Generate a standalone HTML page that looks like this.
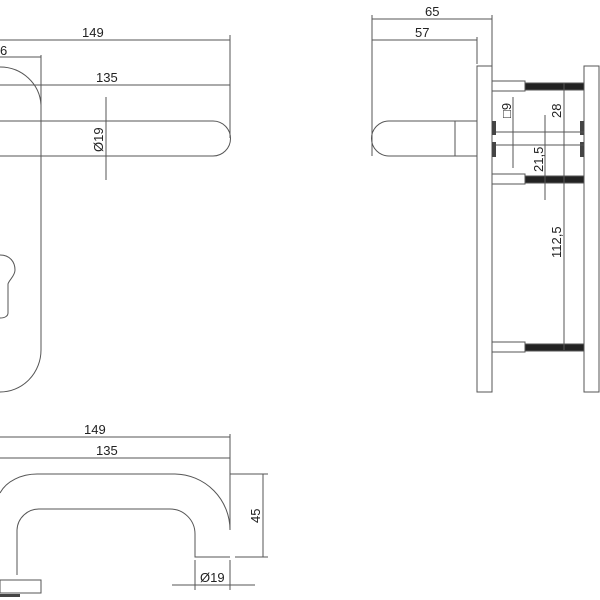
<!DOCTYPE html>
<html><head><meta charset="utf-8"><style>body{margin:0;background:#fff}svg{display:block}text{font-family:"Liberation Sans",sans-serif;font-size:13px;fill:#222}</style></head>
<body>
<svg width="600" height="600" viewBox="0 0 600 600" fill="none" stroke="#555" stroke-width="1">
<line x1="0" y1="40" x2="230" y2="40"/><line x1="230" y1="35" x2="230" y2="138"/>
<text x="82" y="37" stroke="none">149</text>
<line x1="0" y1="57" x2="41" y2="57"/><line x1="41" y1="55" x2="41" y2="350"/>
<text x="0" y="55" stroke="none">6</text>
<line x1="0" y1="85" x2="230" y2="85"/><text x="96" y="82" stroke="none">135</text>
<path d="M0,67 A41,40 0 0 1 41,105"/>
<path d="M41,350 A41,42 0 0 1 0,392"/>
<path d="M0,121 H213 A17.5,17.5 0 0 1 213,156 H0"/>
<line x1="106" y1="97" x2="106" y2="180"/>
<text x="0" y="0" stroke="none" transform="translate(103,152) rotate(-90)">Ø19</text>
<path d="M0,255 C10,255 15,262 15,270 C15,276 9,280 8,284 V313 C8,316 5,318 0,318"/>
<line x1="372" y1="19" x2="492" y2="19"/><line x1="372" y1="15" x2="372" y2="156"/><line x1="492" y1="15" x2="492" y2="66"/>
<text x="425" y="16" stroke="none">65</text>
<line x1="372" y1="40" x2="477" y2="40"/><line x1="477" y1="37" x2="477" y2="64"/>
<text x="415" y="37" stroke="none">57</text>
<rect x="477" y="66" width="15" height="326"/>
<rect x="584" y="66" width="15" height="326"/>
<path d="M477,121 H389 A17.5,17.5 0 0 0 389,156 H477"/>
<line x1="455" y1="121" x2="455" y2="156"/>
<g>
<rect x="492" y="81" width="33" height="10"/><rect x="525" y="83" width="59" height="7" fill="#222"/>
<rect x="492" y="174" width="33" height="10"/><rect x="525" y="176" width="59" height="7" fill="#222"/>
<rect x="492" y="342" width="33" height="10"/><rect x="525" y="344" width="59" height="7" fill="#222"/>
</g>
<rect x="492" y="121" width="4" height="14" fill="#444" stroke="none"/><rect x="492" y="142" width="4" height="15" fill="#444" stroke="none"/>
<rect x="580" y="121" width="4" height="14" fill="#444" stroke="none"/><rect x="580" y="142" width="4" height="15" fill="#444" stroke="none"/>
<line x1="496" y1="132" x2="584" y2="132"/><line x1="496" y1="145" x2="584" y2="145"/>
<line x1="513" y1="97" x2="513" y2="168"/>
<line x1="545" y1="115" x2="545" y2="200"/>
<line x1="564" y1="83" x2="564" y2="350"/>
<text x="0" y="0" stroke="none" transform="translate(511,118) rotate(-90)">□9</text>
<text x="0" y="0" stroke="none" transform="translate(561,118) rotate(-90)">28</text>
<text x="0" y="0" stroke="none" transform="translate(543,172) rotate(-90)">21,5</text>
<text x="0" y="0" stroke="none" transform="translate(561,258) rotate(-90)">112,5</text>
<line x1="0" y1="437" x2="230" y2="437"/><text x="84" y="434" stroke="none">149</text>
<line x1="0" y1="458" x2="230" y2="458"/><text x="96" y="455" stroke="none">135</text>
<line x1="230" y1="434" x2="230" y2="530"/>
<path d="M0,493 A40,30 0 0 1 38,474 H175 A56,56 0 0 1 230,530"/>
<path d="M17,575 V530 A22,22 0 0 1 40,509 H170 A25,25 0 0 1 195,534 V557 H230"/>
<line x1="230" y1="474" x2="268" y2="474"/><line x1="235" y1="557" x2="268" y2="557"/>
<line x1="263" y1="474" x2="263" y2="557"/>
<text x="0" y="0" stroke="none" transform="translate(260,523) rotate(-90)">45</text>
<line x1="195" y1="560" x2="195" y2="590"/><line x1="230" y1="560" x2="230" y2="590"/>
<line x1="172" y1="585" x2="255" y2="585"/>
<text x="200" y="582" stroke="none">Ø19</text>
<rect x="0" y="580" width="41" height="13"/>
<rect x="0" y="594" width="20" height="3" fill="#444" stroke="none"/>
</svg>
</body></html>
